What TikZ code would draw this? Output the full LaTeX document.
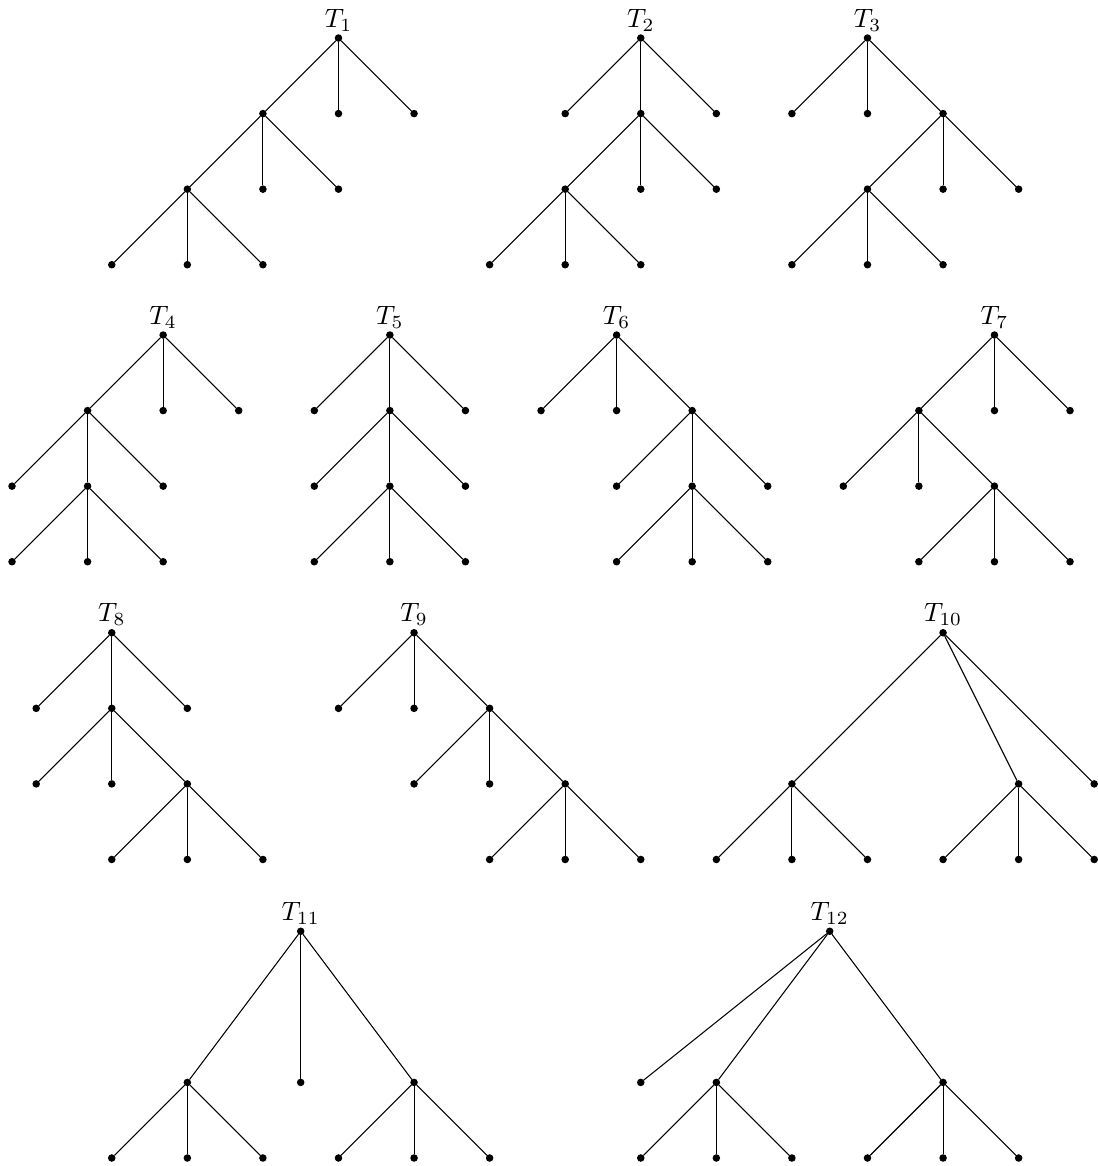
\documentclass[tikz,border=0pt]{standalone}
\usepackage{xcolor}
\usepackage{amsmath, amsfonts, amssymb}
\usepackage{tikz}

\tikzset{
    vert/.style={draw, circle, fill=black, inner sep=0pt, minimum size=2.4pt},
    tname/.style={inner sep=1pt, font=\normalsize}
}

\newcommand{\claw}[1]{%
    \path (#1) ++(-1,-1) node[vert] (#1l) {};
    \path (#1) ++(0,-1) node[vert] (#1m) {};
    \path (#1) ++(1,-1) node[vert] (#1r) {};
    \draw (#1) -- (#1l);
    \draw (#1) -- (#1m);
    \draw (#1) -- (#1r);
}

\begin{document}
\begin{tikzpicture}
    \useasboundingbox (-0.159, -14.926) rectangle (14.357, 0.503);

    \node[vert, label={[tname]above:$T_1$}] at (4.32, 0) (a) {};
    \claw{a} \claw{al} \claw{all}

    \node[vert, label={[tname]above:$T_2$}] at (8.32, 0) (b) {};
    \claw{b} \claw{bm} \claw{bml}

    \node[vert, label={[tname]above:$T_3$}] at (11.32, 0) (c) {};
    \claw{c} \claw{cr} \claw{crl}

    \node[vert, label={[tname]above:$T_4$}] at (2, -3.93) (d) {};
    \claw{d} \claw{dl} \claw{dlm}

    \node[vert, label={[tname]above:$T_5$}] at (5, -3.93) (e) {};
    \claw{e} \claw{em} \claw{emm}

    \node[vert, label={[tname]above:$T_6$}] at (8, -3.93) (f) {};
    \claw{f} \claw{fr} \claw{frm}

    \node[vert, label={[tname]above:$T_7$}] at (13, -3.93) (g) {};
    \claw{g} \claw{gl} \claw{glr}

    \node[vert, label={[tname]above:$T_8$}] at (1.32, -7.87) (h) {};
    \claw{h} \claw{hm} \claw{hmr}

    \node[vert, label={[tname]above:$T_9$}] at (5.32, -7.87) (i) {};
    \claw{i} \claw{ir} \claw{irr}

    \node[vert, label={[tname]above:$T_{10}$}] at (12.32, -7.87) (j) {};
    \node[vert] at (10.32, -9.87) (j1) {};
    \node[vert] at (13.32, -9.87) (j2) {};
    \node[vert] at (14.32, -9.87) (j3) {};
    \draw (j) -- (j1);
    \draw (j) -- (j2);
    \draw (j) -- (j3);
    \claw{j1} \claw{j2}

    \node[vert, label={[tname]above:$T_{11}$}] at (3.82, -11.82) (k) {};
    \node[vert] at (2.32, -13.82) (k1) {};
    \node[vert] at (3.82, -13.82) (k2) {};
    \node[vert] at (5.32, -13.82) (k3) {};
    \draw (k) -- (k1);
    \draw (k) -- (k2);
    \draw (k) -- (k3);
    \claw{k1} \claw{k3}

    \node[vert, label={[tname]above:$T_{12}$}] at (10.82, -11.82) (m) {};
    \node[vert] at (8.32, -13.82) (m1) {};
    \node[vert] at (9.32, -13.82) (m2) {};
    \node[vert] at (12.32, -13.82) (m3) {};
    \draw (m) -- (m1);
    \draw (m) -- (m2);
    \draw (m) -- (m3);
    \claw{m2} \claw{m3}
\end{tikzpicture}
\end{document}
